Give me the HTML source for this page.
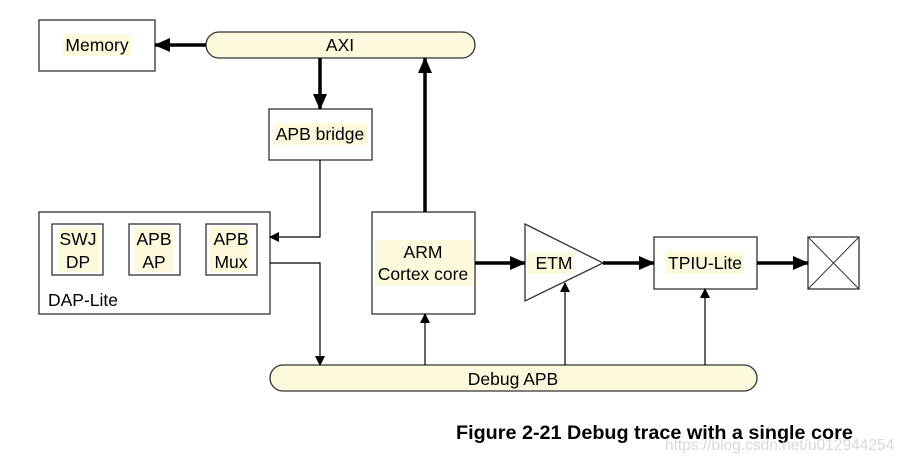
<!DOCTYPE html>
<html><head><style>body{margin:0;background:#fff}</style></head><body>
<svg width="909" height="464" xmlns="http://www.w3.org/2000/svg" font-family="Liberation Sans, sans-serif">
<defs>
<marker id="a" markerWidth="10" markerHeight="10" refX="9" refY="5" orient="auto" markerUnits="userSpaceOnUse"><path d="M0,0 L10,5 L0,10z" fill="#000"/></marker>
<marker id="b" markerWidth="16" markerHeight="14" refX="15" refY="7" orient="auto" markerUnits="userSpaceOnUse"><path d="M0,0 L16,7 L0,14z" fill="#000"/></marker>
</defs>
<g fill="#fff" stroke="#333" stroke-width="1.3">
<rect x="39" y="20" width="116" height="51"/>
<rect x="206" y="32" width="269" height="26" rx="13" fill="#fdf9dc"/>
<rect x="269" y="109" width="103" height="51"/>
<rect x="39" y="212" width="231" height="102"/>
<rect x="52" y="224" width="51" height="51"/>
<rect x="129" y="224" width="51" height="51"/>
<rect x="206" y="224" width="51" height="51"/>
<rect x="372" y="212" width="103" height="102"/>
<path d="M525,224 L603,263 L525,301z"/>
<rect x="654" y="237" width="103" height="52"/>
<rect x="808" y="237" width="51" height="52"/>
<path d="M808,237 L859,289 M859,237 L808,289" stroke-width="1"/>
<rect x="270" y="365" width="487" height="26" rx="13" fill="#fdf9dc"/>
</g>
<g stroke="#000" fill="none">
<line x1="206" y1="45" x2="155" y2="45" stroke-width="3.5" marker-end="url(#b)"/>
<line x1="320" y1="58" x2="320" y2="109" stroke-width="3.5" marker-end="url(#b)"/>
<line x1="425" y1="212" x2="425" y2="58" stroke-width="3.5" marker-end="url(#b)"/>
<line x1="475" y1="263" x2="525" y2="263" stroke-width="3.5" marker-end="url(#b)"/>
<line x1="603" y1="263" x2="654" y2="263" stroke-width="3.5" marker-end="url(#b)"/>
<line x1="757" y1="263" x2="808" y2="263" stroke-width="3.5" marker-end="url(#b)"/>
<polyline points="320,160 320,237 270,237" stroke-width="1.2" marker-end="url(#a)"/>
<polyline points="270,263 320,263 320,365" stroke-width="1.2" marker-end="url(#a)"/>
<line x1="425" y1="365" x2="425" y2="314" stroke-width="1.2" marker-end="url(#a)"/>
<line x1="565" y1="365" x2="565" y2="283" stroke-width="1.2" marker-end="url(#a)"/>
<line x1="705" y1="365" x2="705" y2="289" stroke-width="1.2" marker-end="url(#a)"/>
</g>
<g fill="#fdf9dc">
<rect x="63" y="34" width="68" height="22"/><rect x="273" y="123" width="95" height="22"/>
<rect x="57" y="227" width="42" height="45"/><rect x="134" y="227" width="39" height="45"/><rect x="210" y="227" width="39" height="45"/>
<rect x="375" y="240" width="98" height="46"/><rect x="528" y="252" width="46" height="22"/><rect x="665" y="251" width="79" height="23"/>
</g>
<g font-size="17.5" fill="#000" text-anchor="middle">
<text x="97" y="51">Memory</text>
<text x="340" y="51">AXI</text>
<text x="320" y="140">APB bridge</text>
<text x="78" y="245">SWJ</text><text x="78" y="268">DP</text>
<text x="154" y="245">APB</text><text x="154" y="268">AP</text>
<text x="231" y="245">APB</text><text x="231" y="268">Mux</text>
<text x="423" y="258">ARM</text><text x="423" y="280">Cortex core</text>
<text x="554" y="269">ETM</text>
<text x="705" y="269">TPIU-Lite</text>
<text x="513" y="385">Debug APB</text>
<text x="48" y="306" text-anchor="start">DAP-Lite</text>
</g>
<text x="456" y="439" font-size="19.8" font-weight="bold">Figure 2-21 Debug trace with a single core</text>
<text x="665" y="450" font-size="15.5" fill="#d8d8d8">https://blog.csdn.net/u012944254</text>
</svg>
</body></html>
